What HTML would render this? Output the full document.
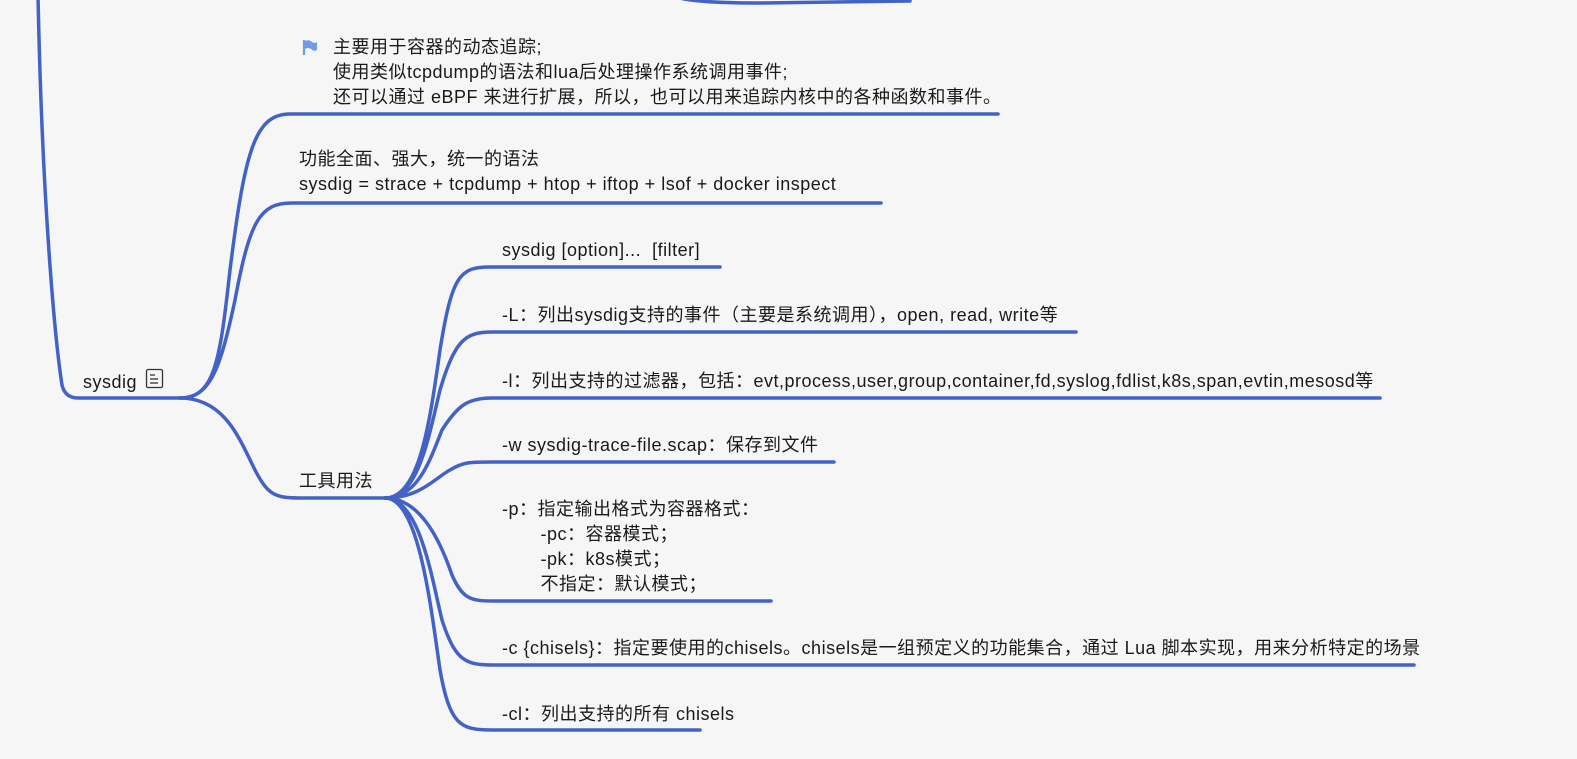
<!DOCTYPE html>
<html><head><meta charset="utf-8"><style>
html,body{margin:0;padding:0;background:#f6f6f6;}
body{width:1577px;height:759px;position:relative;overflow:hidden;font-family:"Liberation Sans","Noto Sans CJK SC",sans-serif;font-size:18px;letter-spacing:0.5px;color:#1a1a1a;}
.t{position:absolute;white-space:nowrap;line-height:25px;}
svg{position:absolute;left:0;top:0;}
</style></head><body>
<svg width="1577" height="759" viewBox="0 0 1577 759">
<g fill="none" stroke="#4362c6" stroke-width="3.5" stroke-linecap="round">
<path d="M680,-2 Q700,3 760,3 L910,1"/>
<path d="M38,-5 C42,200 55,340 62,385 Q65,398 78,398 L180,398"/>
<path d="M180,398 C215,398 220,360 230,270 C245,150 255,114 290,114 L998,114"/>
<path d="M180,398 C210,398 220,370 235,300 C250,220 260,203 292,203 L881,203"/>
<path d="M180,398 C225,398 240,440 255,470 C268,495 275,498 300,498 L385,498"/>
<path d="M385,498 C420,498 430,420 440,350 C452,275 460,267 490,267 L720,267"/>
<path d="M385,498 C418,498 428,440 440,390 C455,340 465,332 492,332 L1076,332"/>
<path d="M385,498 C418,498 430,460 442,430 C458,405 468,398 492,398 L1380,398"/>
<path d="M385,498 C420,498 435,478 450,470 C463,462 470,462 492,462 L834,462"/>
<path d="M385,498 C420,498 440,540 452,575 C462,598 470,601 492,601 L771,601"/>
<path d="M385,498 C420,498 432,580 442,620 C455,660 465,665 492,665 L1414,665"/>
<path d="M385,498 C418,498 430,600 440,670 C450,725 460,730 492,730 L700,730"/>
</g>
<g transform="translate(303,40)">
<path d="M1,0 L1,15" stroke="#6f9be8" stroke-width="2.2"/>
<path d="M2,1 Q6,-1 9,2 Q12,4 14,2 L14,10 Q11,12 8,9 Q5,7 2,9 Z" fill="#6f9be8"/>
</g>
<g transform="translate(146,369)" fill="none" stroke="#333" stroke-width="1.3">
<rect x="0.5" y="0.5" width="16" height="18" rx="1.5"/>
<line x1="4" y1="6" x2="9" y2="6"/><line x1="4" y1="10" x2="12" y2="10"/><line x1="4" y1="14" x2="12" y2="14"/>
</g>
</svg>
<div class="t" style="left:333px;top:35px;">主要用于容器的动态追踪;<br>使用类似tcpdump的语法和lua后处理操作系统调用事件;<br>还可以通过 eBPF 来进行扩展，所以，也可以用来追踪内核中的各种函数和事件。</div>
<div class="t" style="left:299px;top:147px;">功能全面、强大，统一的语法<br>sysdig = strace + tcpdump + htop + iftop + lsof + docker inspect</div>
<div class="t" style="left:83px;top:370px;">sysdig</div>
<div class="t" style="left:299px;top:469px;">工具用法</div>
<div class="t" style="left:502px;top:238px;">sysdig [option]...&nbsp; [filter]</div>
<div class="t" style="left:502px;top:303px;">-L：列出sysdig支持的事件（主要是系统调用），open, read, write等</div>
<div class="t" style="left:502px;top:369px;">-l：列出支持的过滤器，包括：evt,process,user,group,container,fd,syslog,fdlist,k8s,span,evtin,mesosd等</div>
<div class="t" style="left:502px;top:433px;">-w sysdig-trace-file.scap：保存到文件</div>
<div class="t" style="left:502px;top:497px;">-p：指定输出格式为容器格式：<br>&nbsp;&nbsp;&nbsp;&nbsp;&nbsp;&nbsp;&nbsp;-pc：容器模式；<br>&nbsp;&nbsp;&nbsp;&nbsp;&nbsp;&nbsp;&nbsp;-pk：k8s模式；<br>&nbsp;&nbsp;&nbsp;&nbsp;&nbsp;&nbsp;&nbsp;不指定：默认模式；</div>
<div class="t" style="left:502px;top:636px;">-c {chisels}：指定要使用的chisels。chisels是一组预定义的功能集合，通过 Lua 脚本实现，用来分析特定的场景</div>
<div class="t" style="left:502px;top:702px;">-cl：列出支持的所有 chisels</div>
</body></html>
